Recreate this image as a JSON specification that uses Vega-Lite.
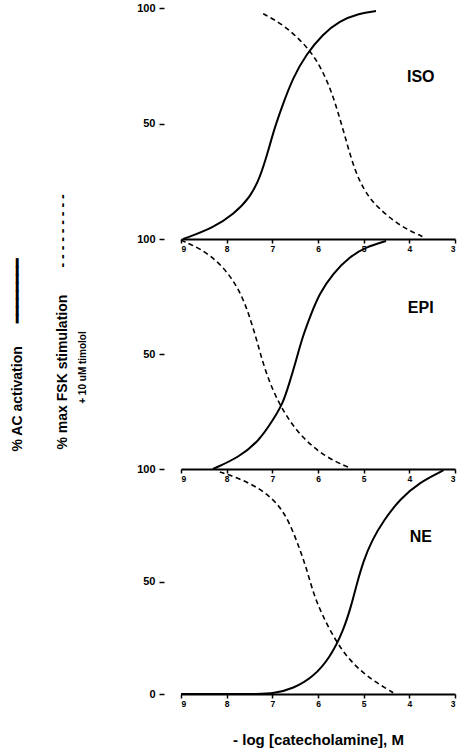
{
  "$schema": "https://vega.github.io/schema/vega-lite/v6.json",
  "description": "Catecholamine dose-response: % AC activation (solid) and % max FSK stimulation + 10 uM timolol (dashed) for ISO, EPI and NE.",
  "padding": {"left": 10, "top": 2, "right": 4, "bottom": 4},
  "background": "white",
  "bounds": "flush",
  "spacing": 0,
  "config": {
    "view": {"stroke": null},
    "font": "Liberation Sans",
    "axis": {
      "grid": false,
      "labelFont": "Liberation Sans",
      "labelFontWeight": "bold",
      "labelColor": "black",
      "tickColor": "black",
      "domainColor": "black",
      "titleFont": "Liberation Sans",
      "titleFontWeight": "bold",
      "titleColor": "black"
    },
    "axisX": {
      "values": [9, 8, 7, 6, 5, 4, 3],
      "format": "d",
      "domainWidth": 2,
      "tickSize": 4,
      "tickWidth": 1.5,
      "labelFontSize": 8.5,
      "labelPadding": 1,
      "title": null
    },
    "axisY": {
      "orient": "left",
      "offset": 17,
      "domain": false,
      "tickSize": 5,
      "tickWidth": 1.5,
      "labelFontSize": 11,
      "labelPadding": 4,
      "title": null
    },
    "line": {"color": "black", "interpolate": "basis"}
  },
  "data": {
    "values": [
      {"drug": "ISO", "series": "AC", "x": 8.95, "y": 0},
      {"drug": "ISO", "series": "AC", "x": 8.29, "y": 4.9},
      {"drug": "ISO", "series": "AC", "x": 7.85, "y": 10.7},
      {"drug": "ISO", "series": "AC", "x": 7.49, "y": 17.9},
      {"drug": "ISO", "series": "AC", "x": 7.27, "y": 26.5},
      {"drug": "ISO", "series": "AC", "x": 7.09, "y": 38.1},
      {"drug": "ISO", "series": "AC", "x": 6.95, "y": 48.2},
      {"drug": "ISO", "series": "AC", "x": 6.77, "y": 58.3},
      {"drug": "ISO", "series": "AC", "x": 6.55, "y": 69.8},
      {"drug": "ISO", "series": "AC", "x": 6.26, "y": 79.9},
      {"drug": "ISO", "series": "AC", "x": 5.9, "y": 88.6},
      {"drug": "ISO", "series": "AC", "x": 5.53, "y": 94.4},
      {"drug": "ISO", "series": "AC", "x": 5.1, "y": 97.7},
      {"drug": "ISO", "series": "AC", "x": 4.73, "y": 98.7},
      {"drug": "ISO", "series": "FSK", "x": 7.2, "y": 97.5},
      {"drug": "ISO", "series": "FSK", "x": 6.77, "y": 92.9},
      {"drug": "ISO", "series": "FSK", "x": 6.4, "y": 86.4},
      {"drug": "ISO", "series": "FSK", "x": 6.11, "y": 79.9},
      {"drug": "ISO", "series": "FSK", "x": 5.9, "y": 72.7},
      {"drug": "ISO", "series": "FSK", "x": 5.71, "y": 64.1},
      {"drug": "ISO", "series": "FSK", "x": 5.57, "y": 55.4},
      {"drug": "ISO", "series": "FSK", "x": 5.42, "y": 45.3},
      {"drug": "ISO", "series": "FSK", "x": 5.28, "y": 35.2},
      {"drug": "ISO", "series": "FSK", "x": 5.1, "y": 25.1},
      {"drug": "ISO", "series": "FSK", "x": 4.88, "y": 17.9},
      {"drug": "ISO", "series": "FSK", "x": 4.68, "y": 13.6},
      {"drug": "ISO", "series": "FSK", "x": 4.35, "y": 7.8},
      {"drug": "ISO", "series": "FSK", "x": 3.99, "y": 3.5},
      {"drug": "ISO", "series": "FSK", "x": 3.69, "y": 0.9},
      {"drug": "EPI", "series": "AC", "x": 8.3, "y": 0},
      {"drug": "EPI", "series": "AC", "x": 7.72, "y": 5.2},
      {"drug": "EPI", "series": "AC", "x": 7.28, "y": 12.5},
      {"drug": "EPI", "series": "AC", "x": 6.99, "y": 21.2},
      {"drug": "EPI", "series": "AC", "x": 6.77, "y": 28.4},
      {"drug": "EPI", "series": "AC", "x": 6.63, "y": 37.1},
      {"drug": "EPI", "series": "AC", "x": 6.48, "y": 47.2},
      {"drug": "EPI", "series": "AC", "x": 6.34, "y": 57.4},
      {"drug": "EPI", "series": "AC", "x": 6.15, "y": 67.5},
      {"drug": "EPI", "series": "AC", "x": 5.97, "y": 76.2},
      {"drug": "EPI", "series": "AC", "x": 5.68, "y": 84.9},
      {"drug": "EPI", "series": "AC", "x": 5.31, "y": 92.2},
      {"drug": "EPI", "series": "AC", "x": 4.95, "y": 96.5},
      {"drug": "EPI", "series": "AC", "x": 4.51, "y": 99.1},
      {"drug": "EPI", "series": "FSK", "x": 9.0, "y": 99.5},
      {"drug": "EPI", "series": "FSK", "x": 8.82, "y": 98},
      {"drug": "EPI", "series": "FSK", "x": 8.38, "y": 93.6},
      {"drug": "EPI", "series": "FSK", "x": 7.94, "y": 84.9},
      {"drug": "EPI", "series": "FSK", "x": 7.65, "y": 74.8},
      {"drug": "EPI", "series": "FSK", "x": 7.47, "y": 64.6},
      {"drug": "EPI", "series": "FSK", "x": 7.32, "y": 54.5},
      {"drug": "EPI", "series": "FSK", "x": 7.18, "y": 44.3},
      {"drug": "EPI", "series": "FSK", "x": 6.99, "y": 34.2},
      {"drug": "EPI", "series": "FSK", "x": 6.77, "y": 25.5},
      {"drug": "EPI", "series": "FSK", "x": 6.48, "y": 16.8},
      {"drug": "EPI", "series": "FSK", "x": 6.12, "y": 9.6},
      {"drug": "EPI", "series": "FSK", "x": 5.75, "y": 4.5},
      {"drug": "EPI", "series": "FSK", "x": 5.39, "y": 1.2},
      {"drug": "EPI", "series": "FSK", "x": 5.3, "y": 0.6},
      {"drug": "NE", "series": "AC", "x": 9.0, "y": 0},
      {"drug": "NE", "series": "AC", "x": 8.0, "y": 0},
      {"drug": "NE", "series": "AC", "x": 7.3, "y": 0},
      {"drug": "NE", "series": "AC", "x": 6.98, "y": 0.2},
      {"drug": "NE", "series": "AC", "x": 6.54, "y": 2.4},
      {"drug": "NE", "series": "AC", "x": 6.1, "y": 7.6},
      {"drug": "NE", "series": "AC", "x": 5.73, "y": 16.4},
      {"drug": "NE", "series": "AC", "x": 5.44, "y": 28.3},
      {"drug": "NE", "series": "AC", "x": 5.26, "y": 40.1},
      {"drug": "NE", "series": "AC", "x": 5.15, "y": 49},
      {"drug": "NE", "series": "AC", "x": 5.0, "y": 59.4},
      {"drug": "NE", "series": "AC", "x": 4.82, "y": 68.3},
      {"drug": "NE", "series": "AC", "x": 4.56, "y": 77.2},
      {"drug": "NE", "series": "AC", "x": 4.2, "y": 86.8},
      {"drug": "NE", "series": "AC", "x": 3.76, "y": 94.2},
      {"drug": "NE", "series": "AC", "x": 3.32, "y": 98.7},
      {"drug": "NE", "series": "AC", "x": 3.25, "y": 99.5},
      {"drug": "NE", "series": "FSK", "x": 8.15, "y": 98.7},
      {"drug": "NE", "series": "FSK", "x": 7.71, "y": 95.7},
      {"drug": "NE", "series": "FSK", "x": 7.27, "y": 91.3},
      {"drug": "NE", "series": "FSK", "x": 6.87, "y": 84.6},
      {"drug": "NE", "series": "FSK", "x": 6.61, "y": 75.7},
      {"drug": "NE", "series": "FSK", "x": 6.39, "y": 63.9},
      {"drug": "NE", "series": "FSK", "x": 6.24, "y": 55},
      {"drug": "NE", "series": "FSK", "x": 6.1, "y": 44.6},
      {"drug": "NE", "series": "FSK", "x": 5.92, "y": 35.7},
      {"drug": "NE", "series": "FSK", "x": 5.66, "y": 25.3},
      {"drug": "NE", "series": "FSK", "x": 5.37, "y": 16.4},
      {"drug": "NE", "series": "FSK", "x": 5.0, "y": 9},
      {"drug": "NE", "series": "FSK", "x": 4.63, "y": 3.9},
      {"drug": "NE", "series": "FSK", "x": 4.34, "y": 0.4}
    ]
  },
  "vconcat": [
    {
      "width": 274,
      "height": 231,
      "layer": [
        {
          "transform": [{"filter": "datum.drug == 'ISO' && datum.series == 'AC'"}],
          "mark": {"type": "line", "strokeWidth": 2},
          "encoding": {
            "x": {"field": "x", "type": "quantitative", "scale": {"domain": [3, 9], "reverse": true}},
            "y": {"field": "y", "type": "quantitative", "scale": {"domain": [0, 100]}, "axis": {"values": [50, 100]}},
            "order": {"field": "x", "sort": "descending"}
          }
        },
        {
          "transform": [{"filter": "datum.drug == 'ISO' && datum.series == 'FSK'"}],
          "mark": {"type": "line", "strokeWidth": 1.6, "strokeDash": [5, 3.5]},
          "encoding": {
            "x": {"field": "x", "type": "quantitative"},
            "y": {"field": "y", "type": "quantitative"},
            "order": {"field": "x", "sort": "descending"}
          }
        },
        {
          "data": {"values": [{"label": "ISO"}]},
          "mark": {"type": "text", "align": "center", "baseline": "middle", "fontSize": 16, "fontWeight": "bold", "font": "Liberation Sans", "color": "black"},
          "encoding": {
            "x": {"datum": 3.75, "type": "quantitative"},
            "y": {"datum": 70, "type": "quantitative"},
            "text": {"field": "label", "type": "nominal"}
          }
        }
      ]
    },
    {
      "width": 274,
      "height": 230,
      "layer": [
        {
          "transform": [{"filter": "datum.drug == 'EPI' && datum.series == 'AC'"}],
          "mark": {"type": "line", "strokeWidth": 2},
          "encoding": {
            "x": {"field": "x", "type": "quantitative", "scale": {"domain": [3, 9], "reverse": true}},
            "y": {
              "field": "y", "type": "quantitative", "scale": {"domain": [0, 100]},
              "axis": {
                "values": [50, 100],
                "title": "% AC activation\u00a0\u00a0\u00a0\u00a0\u00a0\u00a0\u2501\u2501\u2501\u2501\u2501\u2501\u2501\u2501",
                "titleFontSize": 14,
                "titleAngle": 270,
                "titleAlign": "left",
                "titleBaseline": "middle",
                "titleX": -147,
                "titleY": 212
              }
            },
            "order": {"field": "x", "sort": "descending"}
          }
        },
        {
          "transform": [{"filter": "datum.drug == 'EPI' && datum.series == 'FSK'"}],
          "mark": {"type": "line", "strokeWidth": 1.6, "strokeDash": [5, 3.5]},
          "encoding": {
            "x": {"field": "x", "type": "quantitative"},
            "y": {
              "field": "y", "type": "quantitative",
              "axis": {
                "orient": "left",
                "labels": false,
                "ticks": false,
                "title": "% max FSK stimulation\u00a0\u00a0\u00a0\u00a0\u00a0\u00a0\u00a0- - - - - - - - -",
                "titleFontSize": 14,
                "titleAngle": 270,
                "titleAlign": "left",
                "titleBaseline": "middle",
                "titleX": -102,
                "titleY": 210
              }
            },
            "order": {"field": "x", "sort": "descending"}
          }
        },
        {
          "data": {"values": [{"label": "EPI"}]},
          "mark": {"type": "text", "align": "center", "baseline": "middle", "fontSize": 16, "fontWeight": "bold", "font": "Liberation Sans", "color": "black"},
          "encoding": {
            "x": {"datum": 3.75, "type": "quantitative"},
            "y": {
              "datum": 70, "type": "quantitative",
              "axis": {
                "orient": "left",
                "labels": false,
                "ticks": false,
                "title": "+ 10 uM timolol",
                "titleFontSize": 10,
                "titleAngle": 270,
                "titleAlign": "center",
                "titleBaseline": "middle",
                "titleX": -82,
                "titleY": 128
              }
            },
            "text": {"field": "label", "type": "nominal"}
          }
        }
      ],
      "resolve": {"axis": {"y": "independent"}}
    },
    {
      "width": 274,
      "height": 225,
      "layer": [
        {
          "transform": [{"filter": "datum.drug == 'NE' && datum.series == 'AC'"}],
          "mark": {"type": "line", "strokeWidth": 2},
          "encoding": {
            "x": {
              "field": "x", "type": "quantitative", "scale": {"domain": [3, 9], "reverse": true},
              "axis": {"title": "- log [catecholamine], M", "titleFontSize": 15, "titlePadding": 25}
            },
            "y": {"field": "y", "type": "quantitative", "scale": {"domain": [0, 100]}, "axis": {"values": [0, 50, 100]}},
            "order": {"field": "x", "sort": "descending"}
          }
        },
        {
          "transform": [{"filter": "datum.drug == 'NE' && datum.series == 'FSK'"}],
          "mark": {"type": "line", "strokeWidth": 1.6, "strokeDash": [5, 3.5]},
          "encoding": {
            "x": {"field": "x", "type": "quantitative"},
            "y": {"field": "y", "type": "quantitative"},
            "order": {"field": "x", "sort": "descending"}
          }
        },
        {
          "data": {"values": [{"label": "NE"}]},
          "mark": {"type": "text", "align": "center", "baseline": "middle", "fontSize": 16, "fontWeight": "bold", "font": "Liberation Sans", "color": "black"},
          "encoding": {
            "x": {"datum": 3.75, "type": "quantitative"},
            "y": {"datum": 70, "type": "quantitative"},
            "text": {"field": "label", "type": "nominal"}
          }
        }
      ]
    }
  ]
}
